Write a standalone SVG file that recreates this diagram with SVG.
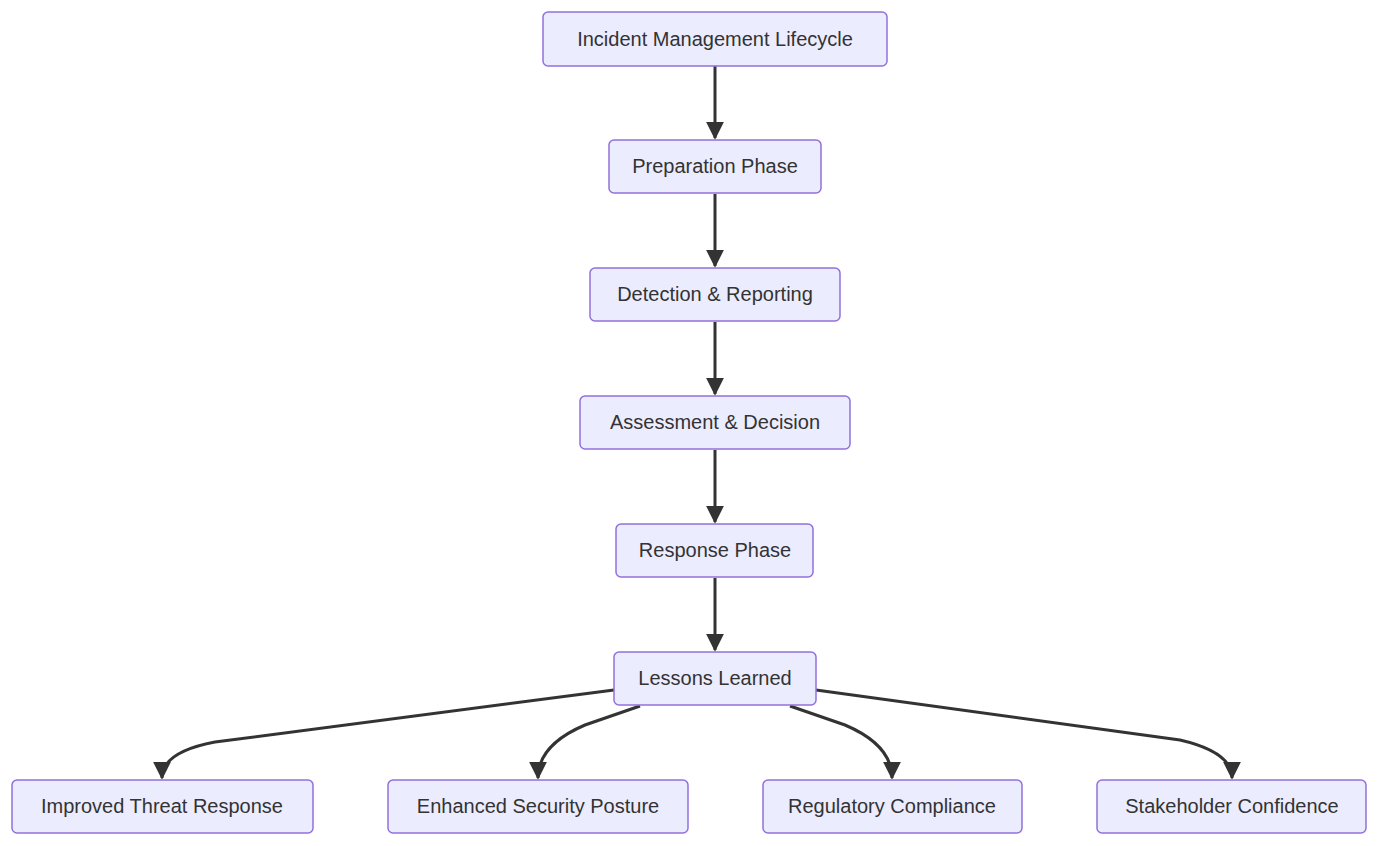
<svg xmlns="http://www.w3.org/2000/svg" width="1379" height="846" viewBox="0 0 1379 846">
<style>
.n rect{fill:#ECECFF;stroke:#9370DB;stroke-width:1.5}
.n text{font-family:"Liberation Sans",Arial,sans-serif;font-size:20px;fill:#333;text-anchor:middle;dominant-baseline:central}
.e path{fill:none;stroke:#333;stroke-width:3}
</style>
<defs><marker id="a" viewBox="0 0 10 10" refX="9" refY="5" markerWidth="7" markerHeight="7" markerUnits="userSpaceOnUse" orient="auto"><path d="M0,0L10,5L0,10z" fill="#333"/></marker>
<marker id="b" viewBox="0 0 10 10" refX="9" refY="5" markerWidth="6" markerHeight="6" orient="auto"><path d="M0,0L10,5L0,10z" fill="#333"/></marker></defs>
<rect width="1379" height="846" fill="#fff"/>
<g class="e">
<path d="M715,66V138" marker-end="url(#b)"/>
<path d="M715,194V266" marker-end="url(#b)"/>
<path d="M715,322V394" marker-end="url(#b)"/>
<path d="M715,450V522" marker-end="url(#b)"/>
<path d="M715,578V650" marker-end="url(#b)"/>
<path d="M614,690L215,742Q162,752 162,778" marker-end="url(#b)"/>
<path d="M640,706L585,725Q538,745 538,778" marker-end="url(#b)"/>
<path d="M790,706L845,725Q892,745 892,778" marker-end="url(#b)"/>
<path d="M816,690L1180,740Q1232,752 1232,778" marker-end="url(#b)"/>
</g>
<g id="n1" class="n"><rect x="543" y="12" width="344" height="54" rx="5"/><text x="715" y="39">Incident Management Lifecycle</text></g>
<g id="n2" class="n"><rect x="609" y="140" width="212" height="53" rx="5"/><text x="715" y="166">Preparation Phase</text></g>
<g id="n3" class="n"><rect x="590" y="268" width="250" height="53" rx="5"/><text x="715" y="294">Detection &amp; Reporting</text></g>
<g id="n4" class="n"><rect x="580" y="396" width="270" height="53" rx="5"/><text x="715" y="422">Assessment &amp; Decision</text></g>
<g id="n5" class="n"><rect x="616" y="524" width="197" height="53" rx="5"/><text x="715" y="550">Response Phase</text></g>
<g id="n6" class="n"><rect x="614" y="652" width="202" height="53" rx="5"/><text x="715" y="678">Lessons Learned</text></g>
<g id="n7" class="n"><rect x="12" y="780" width="301" height="53" rx="5"/><text x="162" y="806">Improved Threat Response</text></g>
<g id="n8" class="n"><rect x="388" y="780" width="300" height="53" rx="5"/><text x="538" y="806">Enhanced Security Posture</text></g>
<g id="n9" class="n"><rect x="763" y="780" width="259" height="53" rx="5"/><text x="892" y="806">Regulatory Compliance</text></g>
<g id="n10" class="n"><rect x="1097" y="780" width="269" height="53" rx="5"/><text x="1232" y="806">Stakeholder Confidence</text></g>
</svg>
